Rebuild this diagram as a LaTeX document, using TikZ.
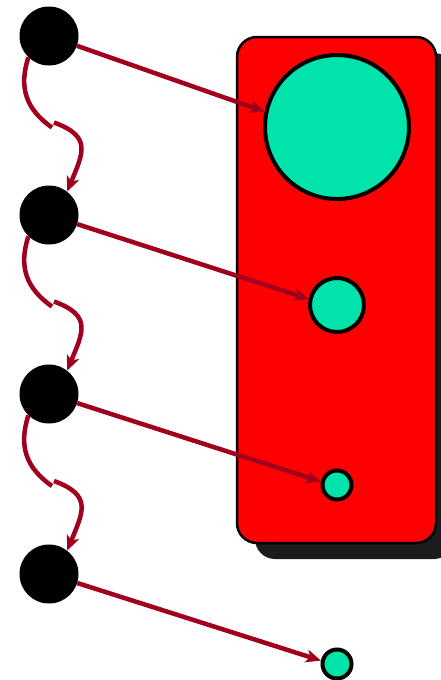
\documentclass[tikz,border=0pt]{standalone}
\usepackage{tikz}
\usetikzlibrary{arrows.meta,shadows,calc}
\definecolor{hopred}{HTML}{A0001E}
\definecolor{slotgreen}{HTML}{00E3AA}
\definecolor{panelred}{HTML}{FF0000}
\definecolor{panelshade}{HTML}{1C1C1C}
\tikzset{
  dotnode/.style={circle,fill=black,inner sep=0pt,minimum size=59pt},
  slotnode/.style={circle,draw=black,line width=4pt,fill=slotgreen,inner sep=0pt},
  panelbox/.style={draw=black,line width=2.5pt,fill=panelred,rounded corners=20pt,minimum width=199pt,minimum height=506pt,
    drop shadow={shadow xshift=18pt,shadow yshift=-16pt,fill=panelshade,opacity=1}},
  linkarrow/.style={-{Stealth[length=15pt,width=13pt,inset=4pt]},draw=hopred,line width=4.5pt},
  hoparrow/.style={draw=hopred,line width=4.5pt}
}
\begin{document}
\begin{tikzpicture}[x=1pt,y=1pt]
\useasboundingbox (0,0) rectangle (441,-680);
\node[panelbox] (panel) at (336.5,-290) {};
\node[slotnode,minimum size=144pt] (g1) at (337,-127) {};
\node[slotnode,minimum size=54pt] (g2) at (337,-305) {};
\node[slotnode,minimum size=29pt] (g3) at (337,-485) {};
\node[slotnode,minimum size=29pt] (g4) at (337,-664) {};
\node[dotnode] (b1) at (49,-36) {};
\node[dotnode] (b2) at (49,-215) {};
\node[dotnode] (b3) at (49,-394) {};
\node[dotnode] (b4) at (49,-574) {};
% hops down the left side
\foreach \i/\j in {1/2,2/3,3/4}{
  \coordinate (h\i a) at ($(b\i)!0.5!(b\j)+(3,-2)$);
  \coordinate (h\i b) at ($(b\i)!0.5!(b\j)+(5,3)$);
  \draw[hoparrow] (b\i.226) to[out=252,in=145,looseness=1.1] (h\i a);
  \draw[hoparrow,-{Stealth[length=15pt,width=13pt,inset=4pt]}] (h\i b) to[out=-20,in=68,looseness=1.5] (b\j.52);
}
% links to the slots
\foreach \i in {1,...,4}{\draw[linkarrow] (b\i) -- (g\i.168);}
\end{tikzpicture}
\end{document}
